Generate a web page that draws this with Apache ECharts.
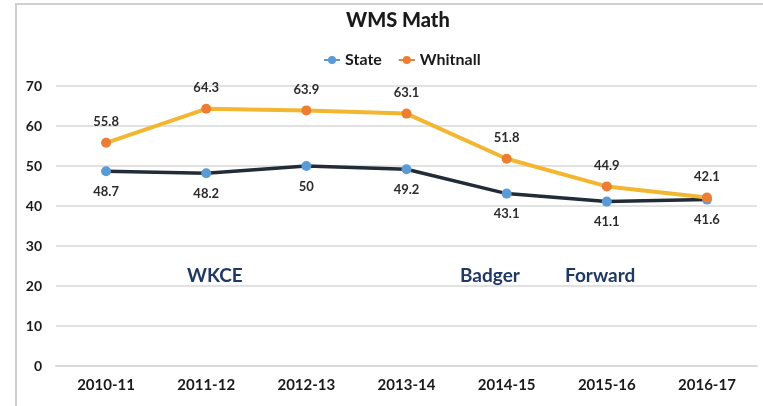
<!DOCTYPE html>
<html>
<head>
<meta charset="utf-8">
<script src="https://cdn.jsdelivr.net/npm/echarts@6/dist/echarts.min.js"></script>
<style>
  html, body { margin: 0; padding: 0; background: #fff; }
  #chart { width: 763px; height: 406px; }
</style>
</head>
<body>
<div id="chart"></div>
<script>
const years = ['2010-11', '2011-12', '2012-13', '2013-14', '2014-15', '2015-16', '2016-17']
const stateValues = [48.7, 48.2, 50, 49.2, 43.1, 41.1, 41.6]
const whitnallValues = [55.8, 64.3, 63.9, 63.1, 51.8, 44.9, 42.1]
const testNames = ['WKCE', 'Badger', 'Forward']

const font = 'Lato, "Open Sans", sans-serif'
const textColor = '#2b2b2b'
const gridColor = '#D9D9D9'

const chart = echarts.init(document.getElementById('chart'))

const option = {
  animation: false,
  textStyle: { fontFamily: font },
  title: {
    text: 'WMS Math',
    left: 341,
    top: 6,
    textStyle: { fontFamily: font, fontSize: 20, fontWeight: 900, color: '#1a1a1a' }
  },
  legend: {
    top: 47,
    left: 318,
    itemGap: 16,
    itemWidth: 16,
    itemHeight: 10,
    textStyle: { fontFamily: font, fontSize: 16, fontWeight: 'bold', color: '#1a1a1a' },
    data: [
      { name: 'State', itemStyle: { color: '#5B9BD5' }, lineStyle: { color: '#5B9BD5' } },
      { name: 'Whitnall', itemStyle: { color: '#ED7D31' }, lineStyle: { color: '#ED7D31' } }
    ]
  },
  grid: { left: 56, right: 6, top: 86, bottom: 40 },
  xAxis: {
    type: 'category',
    data: years,
    axisTick: { show: false },
    axisLine: { lineStyle: { color: gridColor, width: 2 } },
    axisLabel: { color: '#1a1a1a', fontSize: 15, fontWeight: 'bold', fontFamily: font, margin: 12 }
  },
  yAxis: {
    type: 'value',
    min: 0,
    max: 70,
    interval: 10,
    axisLine: { show: false },
    axisTick: { show: false },
    axisLabel: { color: '#1a1a1a', fontSize: 14, fontWeight: 'bold', fontFamily: font, margin: 14 },
    splitLine: { lineStyle: { color: gridColor, width: 1.5 } }
  },
  graphic: [
    {
      type: 'rect',
      shape: { x: 16, y: 4, width: 900, height: 600 },
      style: { fill: 'none', stroke: '#D0D0D0', lineWidth: 2 },
      silent: true
    },
    {
      type: 'text', left: 187, top: 266,
      style: { text: testNames[0], font: 'bold 19px ' + font, fill: '#1F3864' }
    },
    {
      type: 'text', left: 460, top: 266,
      style: { text: testNames[1], font: 'bold 19px ' + font, fill: '#1F3864' }
    },
    {
      type: 'text', left: 565, top: 266,
      style: { text: testNames[2], font: 'bold 19px ' + font, fill: '#1F3864' }
    }
  ],
  series: [
    {
      name: 'State',
      type: 'line',
      data: stateValues,
      symbol: 'circle',
      symbolSize: 10,
      itemStyle: { color: '#5B9BD5' },
      lineStyle: { color: '#222B38', width: 3.5 },
      label: {
        show: true,
        position: 'bottom',
        distance: 9,
        color: textColor,
        fontSize: 13,
        fontWeight: 'bold',
        fontFamily: font
      },
      z: 2
    },
    {
      name: 'Whitnall',
      type: 'line',
      data: whitnallValues,
      symbol: 'circle',
      symbolSize: 10,
      itemStyle: { color: '#ED7D31' },
      lineStyle: { color: '#F2B630', width: 4 },
      label: {
        show: true,
        position: 'top',
        distance: 9,
        color: textColor,
        fontSize: 13,
        fontWeight: 'bold',
        fontFamily: font
      },
      z: 3
    }
  ]
}

chart.setOption(option)
</script>
</body>
</html>
